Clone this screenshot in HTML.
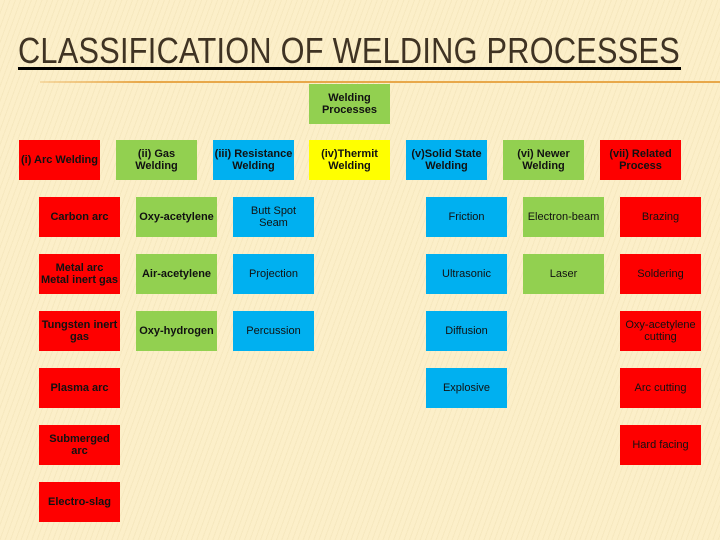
<!DOCTYPE html>
<html><head><style>
body{margin:0;width:720px;height:540px;overflow:hidden;background:#fcefc9;position:relative;font-family:"Liberation Sans",Arial,sans-serif}
.bg{position:absolute;inset:0;background:repeating-linear-gradient(110deg,rgba(255,255,255,0) 0 4px,rgba(230,210,160,0.25) 4px 5px)}
.t{position:absolute;left:18px;top:30px;font-family:"Liberation Sans Narrow","Liberation Sans",sans-serif;font-size:36px;color:#3f3323;white-space:nowrap;letter-spacing:0.3px;transform-origin:left top}
.ul{position:absolute;left:18px;top:67px;width:663px;height:3px;background:#000}
.ol{position:absolute;left:40px;top:81px;width:680px;height:2px;background:linear-gradient(90deg,rgba(232,168,74,0.3),#e8a84a 15%)}
.b{position:absolute;width:81px;height:40px;display:flex;align-items:center;justify-content:center;text-align:center;font-size:11px;line-height:12px;color:#111}
.r{background:#fe0000}.g{background:#92d050}.c{background:#00b0f0}.y{background:#ffff00}
.bd{font-weight:bold}
</style></head><body>
<div class="bg"></div>
<div class="t">CLASSIFICATION OF WELDING PROCESSES</div>
<div class="ul"></div>
<div class="ol"></div>
<div class="b g bd" style="left:309px;top:84px">Welding<br>Processes</div>

<div class="b r bd" style="left:19px;top:140px">(i) Arc Welding</div>
<div class="b g bd" style="left:116px;top:140px">(ii) Gas<br>Welding</div>
<div class="b c bd" style="left:213px;top:140px">(iii) Resistance<br>Welding</div>
<div class="b y bd" style="left:309px;top:140px">(iv)Thermit<br>Welding</div>
<div class="b c bd" style="left:406px;top:140px">(v)Solid State<br>Welding</div>
<div class="b g bd" style="left:503px;top:140px">(vi) Newer<br>Welding</div>
<div class="b r bd" style="left:600px;top:140px">(vii) Related<br>Process</div>

<div class="b r bd" style="left:39px;top:197px">Carbon arc</div>
<div class="b r bd" style="left:39px;top:254px">Metal arc<br>Metal inert gas</div>
<div class="b r bd" style="left:39px;top:311px">Tungsten inert<br>gas</div>
<div class="b r bd" style="left:39px;top:368px">Plasma arc</div>
<div class="b r bd" style="left:39px;top:425px">Submerged<br>arc</div>
<div class="b r bd" style="left:39px;top:482px">Electro-slag</div>

<div class="b g bd" style="left:136px;top:197px">Oxy-acetylene</div>
<div class="b g bd" style="left:136px;top:254px">Air-acetylene</div>
<div class="b g bd" style="left:136px;top:311px">Oxy-hydrogen</div>

<div class="b c" style="left:233px;top:197px">Butt Spot<br>Seam</div>
<div class="b c" style="left:233px;top:254px">Projection</div>
<div class="b c" style="left:233px;top:311px">Percussion</div>

<div class="b c" style="left:426px;top:197px">Friction</div>
<div class="b c" style="left:426px;top:254px">Ultrasonic</div>
<div class="b c" style="left:426px;top:311px">Diffusion</div>
<div class="b c" style="left:426px;top:368px">Explosive</div>

<div class="b g" style="left:523px;top:197px">Electron-beam</div>
<div class="b g" style="left:523px;top:254px">Laser</div>

<div class="b r" style="left:620px;top:197px">Brazing</div>
<div class="b r" style="left:620px;top:254px">Soldering</div>
<div class="b r" style="left:620px;top:311px">Oxy-acetylene<br>cutting</div>
<div class="b r" style="left:620px;top:368px">Arc cutting</div>
<div class="b r" style="left:620px;top:425px">Hard facing</div>
<script>
var t=document.querySelector('.t');var w=t.getBoundingClientRect().width;t.style.transform='scaleX('+(662/w)+')';
</script>
</body></html>
